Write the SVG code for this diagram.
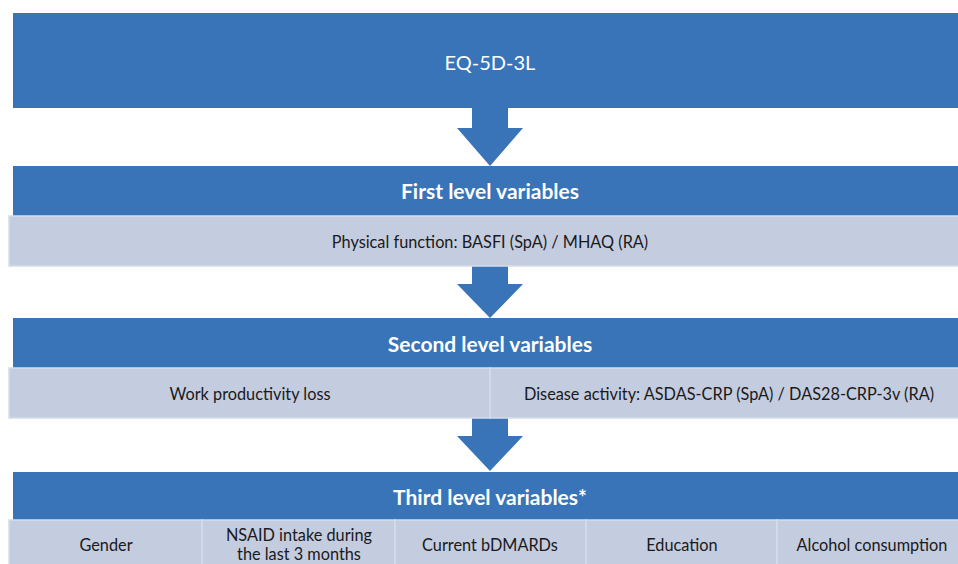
<svg xmlns="http://www.w3.org/2000/svg" width="958" height="564" viewBox="0 0 958 564">
<style>
.hdr{fill:#3874b7}
.cell{fill:#c4cce0;stroke:#d6dcea;stroke-width:1.5}
.arrow{fill:#3874b7}
text{font-family:Lato,"Open Sans","Liberation Sans",sans-serif;text-anchor:middle;dominant-baseline:central}
.wt{fill:#ffffff;font-size:20px}
.wb{fill:#ffffff;font-size:21px;font-weight:bold}
.dk{fill:#1a1a1a;font-size:16.3px}
</style>
<rect width="958" height="564" fill="#ffffff"/>
<g id="connectors">
<polygon class="arrow" points="472,108 508,108 508,128 523,128 490,166 457,128 472,128"/>
<polygon class="arrow" points="472,266 508,266 508,284 523,284 490,318 457,284 472,284"/>
<polygon class="arrow" points="472,418 508,418 508,436 523,436 490,471 457,436 472,436"/>
</g>
<g id="eq5d">
<rect class="hdr" x="13" y="13" width="954" height="95"/>
<text class="wt" x="490" y="62">EQ-5D-3L</text>
</g>
<g id="level1">
<rect class="hdr" x="13" y="166" width="954" height="50"/>
<text class="wb" x="490" y="190">First level variables</text>
</g>
<g id="physical">
<rect class="cell" x="9" y="216" width="958" height="50"/>
<text class="dk" x="490" y="241">Physical function: BASFI (SpA) / MHAQ (RA)</text>
</g>
<g id="level2">
<rect class="hdr" x="13" y="318" width="954" height="50"/>
<text class="wb" x="490" y="343">Second level variables</text>
</g>
<g id="work">
<rect class="cell" x="9" y="368" width="481" height="50"/>
<text class="dk" x="250" y="393">Work productivity loss</text>
</g>
<g id="disease">
<rect class="cell" x="490" y="368" width="477" height="50"/>
<text class="dk" x="729" y="393">Disease activity: ASDAS-CRP (SpA) / DAS28-CRP-3v (RA)</text>
</g>
<g id="level3">
<rect class="hdr" x="13" y="472" width="954" height="48"/>
<text class="wb" x="490" y="496">Third level variables*</text>
</g>
<g id="gender">
<rect class="cell" x="9" y="520" width="193" height="50"/>
<text class="dk" x="106" y="544">Gender</text>
</g>
<g id="nsaid">
<rect class="cell" x="202" y="520" width="193" height="50"/>
<text class="dk" x="299" y="534">NSAID intake during</text>
<text class="dk" x="299" y="553">the last 3 months</text>
</g>
<g id="bdmards">
<rect class="cell" x="395" y="520" width="191" height="50"/>
<text class="dk" x="490" y="544">Current bDMARDs</text>
</g>
<g id="education">
<rect class="cell" x="586" y="520" width="191" height="50"/>
<text class="dk" x="682" y="544">Education</text>
</g>
<g id="alcohol">
<rect class="cell" x="777" y="520" width="190" height="50"/>
<text class="dk" x="872" y="544">Alcohol consumption</text>
</g>
</svg>
